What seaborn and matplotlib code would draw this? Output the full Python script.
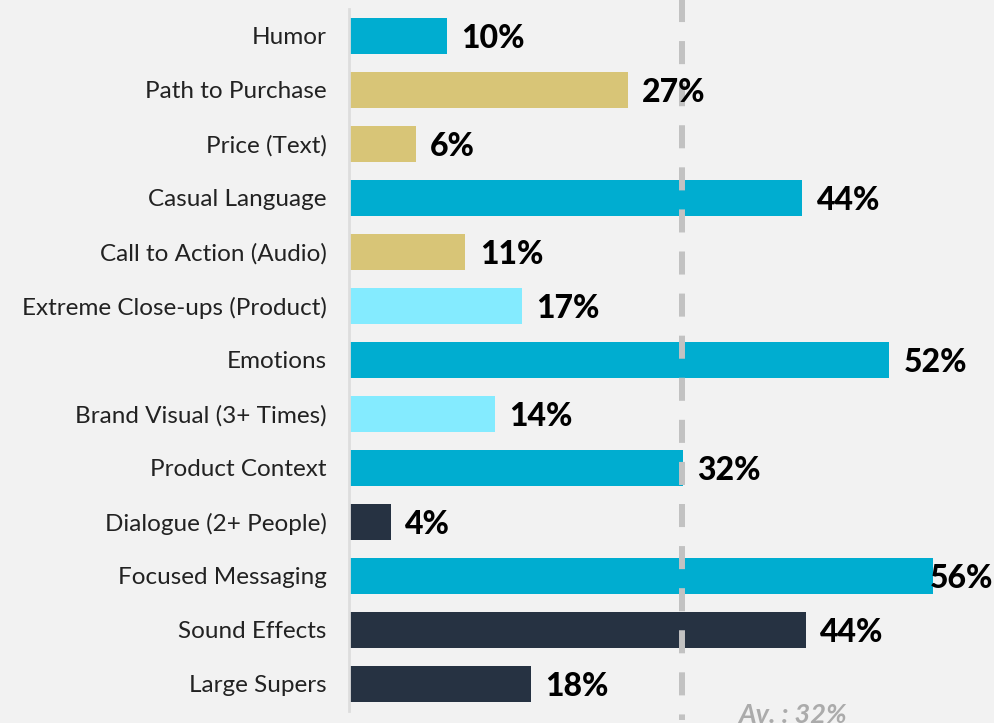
import matplotlib
matplotlib.use("Agg")
import matplotlib.pyplot as plt
import seaborn as sns
import pandas as pd

categories = ["Humor", "Path to Purchase", "Price (Text)", "Casual Language",
              "Call to Action (Audio)", "Extreme Close-ups (Product)", "Emotions",
              "Brand Visual (3+ Times)", "Product Context", "Dialogue (2+ People)",
              "Focused Messaging", "Sound Effects", "Large Supers"]
values = [9.4, 26.8, 6.4, 43.6, 11.2, 16.6, 51.9, 14.0, 32.1, 4.0, 56.2, 43.9, 17.5]
value_labels = ["10%", "27%", "6%", "44%", "11%", "17%", "52%", "14%", "32%", "4%", "56%", "44%", "18%"]
groups = ["A", "B", "B", "A", "B", "C", "A", "C", "A", "D", "A", "D", "D"]
average = 32
average_label = "Av. : 32%"

palette = {"A": "#00ADD0", "B": "#D8C577", "C": "#84EBFF", "D": "#263242"}
bg = "#F2F2F2"

df = pd.DataFrame({"label": categories, "value": values, "group": groups})

sns.set_theme(style="white")
plt.rcParams["font.family"] = ["Lato", "DejaVu Sans"]
plt.rcParams["lines.scale_dashes"] = False

fig = plt.figure(figsize=(9.94, 7.23), dpi=100, facecolor=bg)
W, H = 994, 723
ax = fig.add_axes([349 / W, 1 - 711 / H, (W - 349) / W, 702 / H])
ax.set_facecolor(bg)

sns.barplot(data=df, y="label", x="value", hue="group", palette=palette,
            orient="h", width=0.67, dodge=False, legend=False, ax=ax,
            saturation=1, zorder=2, linewidth=0, edgecolor="none")

xmax = (W - 349) / 10.4
ax.set_xlim(0, xmax)
ax.set_ylim(len(categories) - 0.5, -0.5)

for s in ["top", "right", "bottom"]:
    ax.spines[s].set_visible(False)
ax.spines["left"].set_color("#DDDDDD")
ax.spines["left"].set_linewidth(2)
ax.spines["left"].set_zorder(5)
ax.set_xticks([])
ax.set_xlabel("")
ax.set_ylabel("")
ax.tick_params(axis="y", length=0, pad=16, labelsize=17.5, labelcolor="#222222")
for t in ax.get_yticklabels():
    t.set_y(t.get_position()[1])
    t.set_verticalalignment("center_baseline")

# average dashed line
tr = ax.get_xaxis_transform()
ax.plot([average, average], [(711 + 19) / 702, (711 - 720) / 702], transform=tr,
        color="#C2C2C2", lw=4.3, dashes=(16.6, 13.7), solid_capstyle="butt",
        dash_capstyle="butt", clip_on=False, zorder=3)
ax.text(average + 5.4, 0.011, average_label, transform=tr, ha="left", va="top",
        fontsize=19.5, fontweight="bold", fontstyle="italic", color="#ABABAB",
        clip_on=False, zorder=4)

for i, (v, lab) in enumerate(zip(values, value_labels)):
    if v + 1.4 + 6.4 > xmax:
        ax.text(xmax - 0.1, i + 0.05, lab, ha="right", va="center", fontsize=23,
                fontweight="black", color="#000000", zorder=4)
    else:
        ax.text(v + 1.4, i + 0.05, lab, ha="left", va="center", fontsize=23,
                fontweight="black", color="#000000", zorder=4)

fig.savefig("out.png", dpi=100, facecolor=bg)
